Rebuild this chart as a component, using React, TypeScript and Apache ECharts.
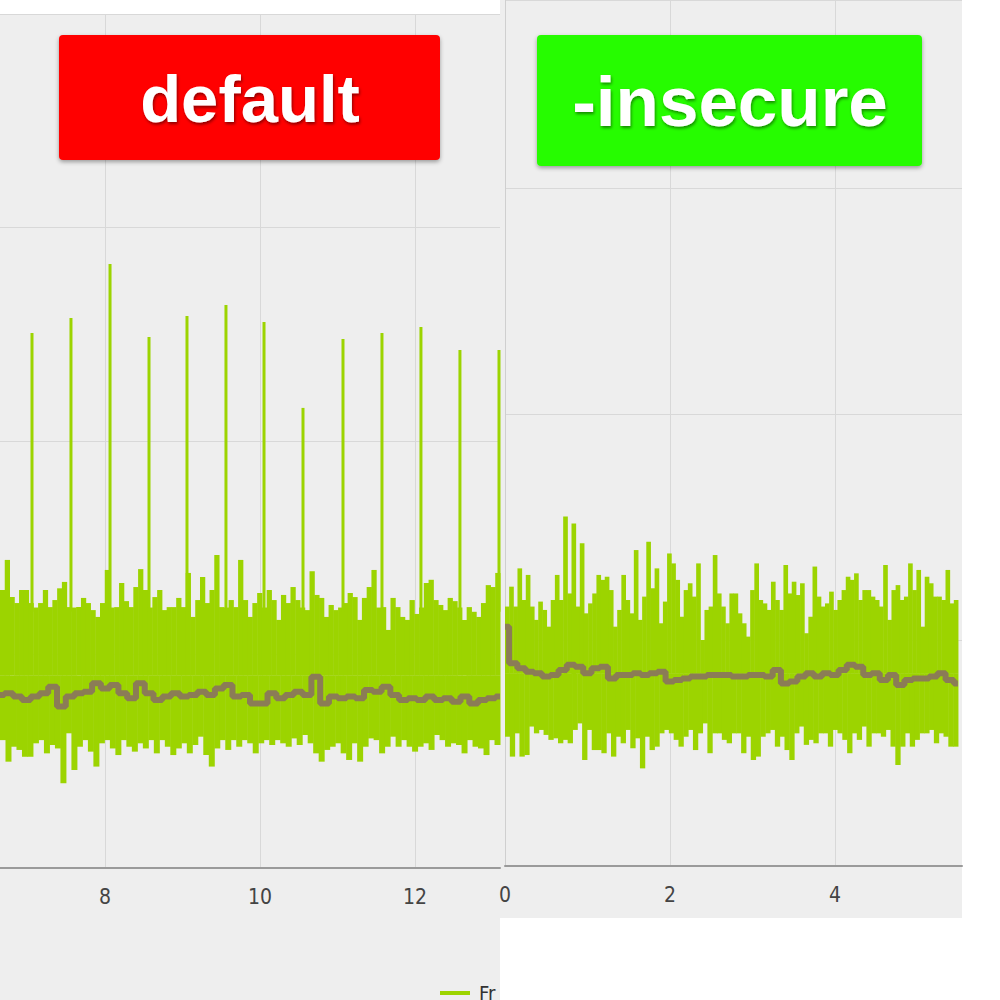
import React, { useEffect, useRef } from "react";
import * as echarts from "echarts";

// ---------- data (frame times) ----------
// Left panel: "default"
const leftXRange = [6.645, 13.097];
const leftHigh = [13.02, 14.43, 12.69, 12.41, 13.02, 13.02, 12.41, 12.2, 12.41, 13.02, 12.22, 12.55, 13.1, 13.4, 12.22, 12.2, 12.22, 12.65, 12.41, 12.08, 11.76, 12.41, 13.96, 12.2, 12.22, 13.35, 12.5, 12.22, 13.16, 14.0, 13.02, 12.2, 12.69, 13.02, 12.08, 12.22, 12.22, 12.65, 12.22, 13.82, 11.76, 12.55, 13.63, 12.41, 13.02, 14.66, 12.22, 12.2, 12.55, 12.22, 14.43, 12.55,
  11.76, 12.41, 12.88, 12.2, 13.02, 12.55, 11.62, 12.79, 12.41, 13.16, 12.55, 12.2, 12.08, 13.9, 12.79, 12.65, 11.76, 12.32, 12.08, 12.2, 12.41, 12.88, 12.69, 11.62, 12.65, 13.16, 13.96, 12.2, 12.22, 11.15, 12.65, 12.22, 11.76, 11.62, 12.55, 11.9, 12.2, 13.35, 13.5, 12.55, 12.32, 12.08, 12.65, 12.5, 12.2, 11.62, 12.22, 12.0, 11.76, 12.41, 13.25, 13.16, 13.82];
const leftLow = [5.99, 4.98, 5.68, 5.53, 5.21, 5.21, 5.84, 5.99, 5.37, 5.76, 5.6, 3.97, 6.31, 4.59, 5.68, 5.99, 5.45, 4.75, 5.84, 5.99, 5.6, 5.29, 5.99, 5.68, 5.45, 5.84, 5.6, 5.99, 5.37, 5.99, 5.68, 5.29, 5.6, 5.84, 5.37, 5.76, 6.15, 5.29, 4.75, 5.6, 5.99, 5.53, 5.99, 5.68, 5.99, 5.84, 5.37,
  5.84, 5.99, 5.76, 5.99, 5.84, 5.68, 6.07, 5.76, 6.23, 5.84, 5.37, 4.98, 5.53, 5.68, 5.84, 5.37, 5.06, 5.84, 4.98, 5.68, 6.07, 5.99, 5.37, 5.68, 6.15, 5.68, 5.99, 5.68, 5.45, 5.68, 5.84, 5.53, 6.23, 5.99, 5.68, 5.84, 5.76, 5.37, 5.99, 5.68, 5.6, 5.29, 5.99, 5.76];
const leftAvg = [8.1, 8.18, 8.03, 7.87, 8.03, 8.18, 8.49, 7.56, 8.03, 8.18, 8.26, 8.65, 8.41, 8.57, 8.18, 7.95, 8.65, 8.18, 7.87, 8.03, 8.18, 8.03, 8.1, 8.26, 8.1, 8.41, 8.57, 8.03, 8.1, 7.71,
  7.71, 8.18, 7.95, 8.1, 8.26, 8.1, 8.96, 7.71, 8.03, 7.95, 8.03, 7.95, 8.34, 8.26, 8.49, 8.1, 7.87, 7.95, 7.87, 8.03, 7.87, 7.95, 7.79, 8.03, 7.71, 7.87, 7.95, 8.03];
const leftSpikeX = [7.058, 7.561, 8.065, 8.568, 9.058, 9.561, 10.052, 10.555, 11.071, 11.574, 12.077, 12.58, 13.084];
const leftSpikeTop = [25.06, 25.76, 28.29, 24.87, 25.85, 26.37, 25.57, 21.55, 24.78, 25.06, 25.34, 24.26, 24.26];
const leftSpikeBase = 12;
const leftBandMid = 9;

// Right panel: "-insecure"
const rightXRange = [0, 5.49];
const rightHigh = [11.48, 12.36, 11.48, 13.17, 11.77, 12.88, 11.48, 10.89, 11.7, 11.33, 10.59, 11.77, 12.88, 11.77, 15.46, 12.06, 15.16, 11.48, 14.28, 11.18, 11.62, 12.06, 12.88, 12.66, 12.8, 12.21, 10.59, 11.33, 12.88, 11.77, 11.18, 13.98, 10.89, 11.92, 14.35, 12.29, 13.17, 10.74, 11.7, 13.83, 13.39, 12.66, 11.03, 12.21, 12.51, 11.92, 13.39, 10.0, 11.33, 11.48, 13.76, 12.06, 11.48, 10.74, 12.06, 12.06, 11.18,
  10.74, 10.15, 12.21, 13.39, 11.77, 11.62, 11.33, 12.58, 11.77, 11.33, 13.32, 12.06, 12.58, 11.99, 12.51, 10.3, 11.03, 13.25, 11.92, 11.48, 11.62, 12.14, 11.33, 11.77, 12.21, 12.8, 12.66, 12.95, 11.77, 12.21, 12.21, 11.92, 11.77, 11.48, 13.32, 10.89, 12.21, 12.43, 11.77, 11.92, 13.39, 12.21, 13.1, 10.59, 12.8, 12.51, 11.92, 11.92, 11.77, 13.1, 11.62, 11.77];
const rightLow = [5.72, 4.84, 5.87, 4.84, 4.91, 6.17, 5.87, 6.02, 5.8, 5.58, 5.65, 5.43, 5.58, 5.43, 6.02, 6.31, 4.69, 6.02, 5.13, 5.13, 4.99, 5.87, 4.84, 5.72, 5.43, 6.02, 5.21, 5.65, 4.32, 5.72, 5.13, 5.28, 5.87, 6.02, 5.87, 5.58, 5.28, 5.72, 6.02, 5.13, 5.87, 6.31, 4.99, 5.87, 5.87, 5.58, 5.43,
  5.87, 5.87, 4.99, 5.72, 4.69, 4.84, 5.72, 5.87, 6.02, 5.28, 5.72, 5.13, 4.69, 5.87, 6.17, 5.36, 5.58, 5.43, 5.87, 5.87, 5.28, 6.02, 5.87, 5.58, 4.99, 5.87, 5.58, 6.17, 5.28, 5.87, 5.87, 5.72, 6.02, 5.28, 4.47, 5.28, 5.87, 5.28, 5.58, 5.87, 5.87, 6.02, 5.43, 5.87, 5.72, 5.28, 5.28];
const rightAvg = [10.59, 8.97, 8.75, 8.6, 8.53, 8.38, 8.45, 8.67, 8.9, 8.82, 8.53, 8.75, 8.82, 8.3, 8.45, 8.45, 8.53, 8.45, 8.53, 8.6, 8.16, 8.23, 8.3, 8.38, 8.38, 8.45, 8.45, 8.45,
  8.38, 8.38, 8.45, 8.45, 8.38, 8.67, 8.08, 8.16, 8.38, 8.53, 8.38, 8.53, 8.45, 8.67, 8.9, 8.82, 8.45, 8.53, 8.23, 8.45, 8.01, 8.23, 8.3, 8.3, 8.38, 8.53, 8.23, 8.08];
const rightBandMid = 8.5;

const legendLabel = "Fr";
const titles = ["default", "-insecure"];

// ---------- styles ----------
const GREEN = "#9cd400";
const BROWN = "#8b7c56";
const GRID_LINE = "#d8d8d8";
const LABEL_FONT = "'Liberation Sans Narrow', 'DejaVu Sans Condensed', 'Roboto', sans-serif";
const OFF = 50; // chart canvas is shifted 50px left so the left grid can start off-page

function bandSeries(axis: number, values: number[], range: number[], base: number) {
  const n = values.length;
  const dx = (range[1] - range[0]) / n;
  const data = values.map((v, i) => [range[0] + i * dx, range[0] + (i + 1) * dx, v, base]);
  return {
    type: "custom",
    xAxisIndex: axis,
    yAxisIndex: axis,
    data,
    z: 2,
    encode: { x: [0, 1], y: [2, 3] },
    renderItem: (_p: any, api: any) => {
      const a = api.coord([api.value(0), api.value(3)]);
      const b = api.coord([api.value(1), api.value(2)]);
      return {
        type: "rect",
        shape: {
          x: Math.min(a[0], b[0]),
          y: Math.min(a[1], b[1]),
          width: Math.abs(b[0] - a[0]) + 0.5,
          height: Math.abs(b[1] - a[1]),
        },
        style: { fill: GREEN },
      };
    },
  };
}

function spikeSeries(axis: number, xs: number[], tops: number[], base: number) {
  return {
    type: "custom",
    xAxisIndex: axis,
    yAxisIndex: axis,
    data: xs.map((x, i) => [x, tops[i], base]),
    z: 2,
    encode: { x: 0, y: [1, 2] },
    renderItem: (_p: any, api: any) => {
      const t = api.coord([api.value(0), api.value(1)]);
      const b = api.coord([api.value(0), api.value(2)]);
      return {
        type: "rect",
        shape: { x: t[0] - 1.5, y: t[1], width: 3, height: b[1] - t[1] },
        style: { fill: GREEN },
      };
    },
  };
}

function avgSeries(axis: number, values: number[], range: number[]) {
  const dx = (range[1] - range[0]) / (values.length - 1);
  return {
    type: "line",
    xAxisIndex: axis,
    yAxisIndex: axis,
    data: values.map((v, i) => [range[0] + i * dx, v]),
    step: "middle",
    symbol: "none",
    z: 3,
    lineStyle: { color: BROWN, width: 6 },
  };
}

function xAxisOpt(gridIndex: number, min: number, max: number) {
  return {
    type: "value",
    gridIndex,
    min,
    max,
    interval: 2,
    axisLine: { show: true, lineStyle: { color: "#9a9a9a", width: 2 } },
    axisTick: { show: false },
    axisLabel: {
      color: "#444",
      fontSize: 21,
      fontFamily: LABEL_FONT,
      margin: 18,
      showMaxLabel: false,
      showMinLabel: gridIndex === 1,
    },
    splitLine: { show: true, showMaxLine: false, lineStyle: { color: GRID_LINE, width: 1 } },
  };
}

function yAxisOpt(gridIndex: number, max: number, showLine: boolean) {
  return {
    type: "value",
    gridIndex,
    min: 0,
    max,
    interval: 10,
    axisLine: { show: showLine, lineStyle: { color: "#cfcfcf", width: 1 } },
    axisTick: { show: false },
    axisLabel: { show: false },
    splitLine: { show: true, lineStyle: { color: GRID_LINE, width: 1 } },
  };
}

function titleBox(x: number, y: number, w: number, h: number, fill: string, text: string, size: number, cx: number, cy: number) {
  return [
    {
      type: "rect",
      z: 100,
      shape: { x: x + OFF, y, width: w, height: h, r: 4 },
      style: { fill, shadowColor: "rgba(0,0,0,0.35)", shadowBlur: 4, shadowOffsetY: 2 },
    },
    {
      type: "text",
      z: 101,
      x: cx + OFF,
      y: cy,
      style: {
        text,
        fill: "#ffffff",
        fontSize: size,
        fontWeight: "bold",
        fontFamily: "'Liberation Sans', Arial, sans-serif",
        textAlign: "center",
        textVerticalAlign: "middle",
        align: "center",
        verticalAlign: "middle",
        textShadowColor: "rgba(0,0,0,0.45)",
        textShadowBlur: 3,
        textShadowOffsetX: 1,
        textShadowOffsetY: 2,
      },
    },
  ];
}

export default function App() {
  const ref = useRef<HTMLDivElement>(null);

  useEffect(() => {
    if (!ref.current) return;
    const chart = echarts.init(ref.current, undefined, { renderer: "svg" });
    chart.setOption({
      animation: false,
      backgroundColor: "transparent",
      grid: [
        { left: 0, top: 14, width: 550, height: 854, containLabel: false },
        { left: 505 + OFF, top: 0, width: 457, height: 866, containLabel: false },
      ],
      xAxis: [xAxisOpt(0, 6, 13.097), xAxisOpt(1, 0, 5.539)],
      yAxis: [yAxisOpt(0, 40, false), yAxisOpt(1, 38.32, true)],
      series: [
        bandSeries(0, leftHigh, leftXRange, leftBandMid),
        bandSeries(0, leftLow, leftXRange, leftBandMid),
        spikeSeries(0, leftSpikeX, leftSpikeTop, leftSpikeBase),
        avgSeries(0, leftAvg, leftXRange),
        bandSeries(1, rightHigh, rightXRange, rightBandMid),
        bandSeries(1, rightLow, rightXRange, rightBandMid),
        avgSeries(1, rightAvg, rightXRange),
      ],
      graphic: {
        elements: [
          ...titleBox(59, 35, 381, 125, "#ff0000", titles[0], 67, 250, 98),
          ...titleBox(537, 35, 385, 131, "#28fc00", titles[1], 71, 730, 101),
          {
            type: "line",
            z: 100,
            shape: { x1: 440 + OFF, y1: 993, x2: 470 + OFF, y2: 993 },
            style: { stroke: GREEN, lineWidth: 4 },
          },
          {
            type: "text",
            z: 100,
            x: 479 + OFF,
            y: 993,
            style: {
              text: legendLabel,
              fill: "#333",
              fontSize: 20,
              fontFamily: LABEL_FONT,
              textVerticalAlign: "middle",
              verticalAlign: "middle",
            },
          },
        ],
      },
    });
    return () => chart.dispose();
  }, []);

  return (
    <div style={{ position: "absolute", left: 0, top: 0, width: 1000, height: 1000, background: "#ffffff", overflow: "hidden" }}>
      <div style={{ position: "absolute", left: 0, top: 14, width: 500, height: 986, background: "#eeeeee" }} />
      <div style={{ position: "absolute", left: 500, top: 0, width: 462, height: 918, background: "#eeeeee" }} />
      <div ref={ref} style={{ position: "absolute", left: -OFF, top: 0, width: 1000 + OFF, height: 1000 }} />
    </div>
  );
}
